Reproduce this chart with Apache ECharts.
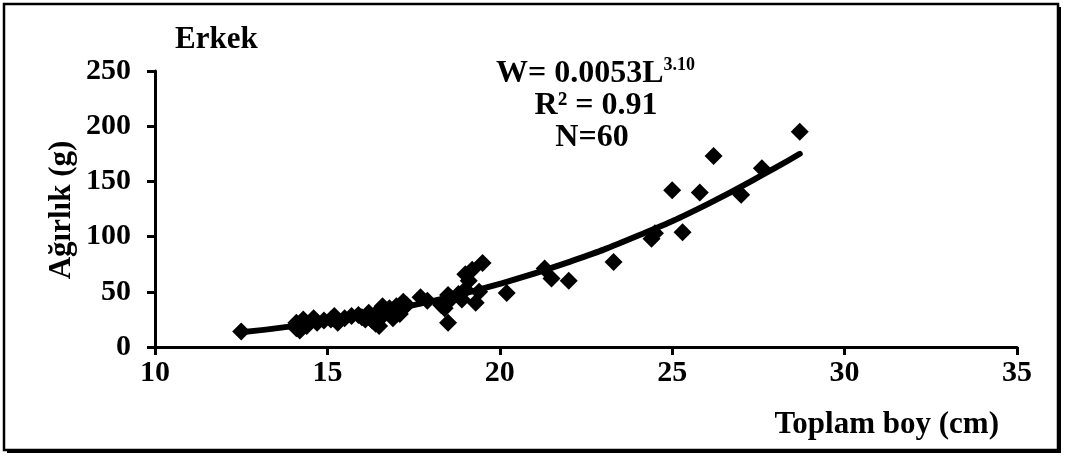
<!DOCTYPE html>
<html><head><meta charset="utf-8">
<script src="https://cdn.jsdelivr.net/npm/echarts@6/dist/echarts.min.js"></script>
<style>html,body{margin:0;padding:0;background:#fff}#c{width:1067px;height:459px}</style>
</head><body><div id="c"></div>
<script>
// Observed points: total length (cm) and weight (g)
const lengths = [12.5,14.1,14.1,14.2,14.3,14.4,14.6,14.7,15.1,15.2,15.3,14.9,
  15.5,15.7,15.9,16.0,16.2,16.3,16.4,16.5,16.5,16.6,16.6,16.8,16.9,17.0,17.1,17.2,17.3,16.1,
  17.7,17.9,18.3,18.5,18.5,18.6,18.8,18.9,19.0,19.1,19.2,19.3,19.5,19.4,18.4,19.0,
  20.2,21.3,21.5,22.0,23.3,24.4,24.5,25.0,25.3,25.8,26.2,27.0,27.6,28.7];
const weights = [14,17,22,15,25,19,26,22,25,28,22,24,
  26,28,29,27,31,24,21,19,33,37,28,35,26,37,30,41,38,25,
  45,42,38,22,47,44,48,43,66,60,70,40,76,50,35,52,
  49,71,62,60,77,98,103,142,104,140,173,138,162,195];
// Trend line (power fit)
const trendL = [12.5,14,16,18,20,22,24,26,28,28.7];
const trendW = [13.3,18.9,28.7,41.3,57.2,76.9,100.7,129.0,162.4,175];
const xTicks = [10,15,20,25,30,35];
const yTicks = [0,50,100,150,200,250];

const font = '"Liberation Serif","Times New Roman",serif';
const FS = 30;
const chart = echarts.init(document.getElementById('c'), null, {renderer:'canvas'});
chart.setOption({
  animation:false,
  backgroundColor:'#fff',
  grid:{left:155,right:50,top:71,bottom:112,containLabel:false},
  xAxis:{type:'value',min:xTicks[0],max:xTicks[xTicks.length-1],interval:5,
    axisLine:{onZero:false,lineStyle:{color:'#000',width:3}},
    axisTick:{show:true,inside:false,length:8,lineStyle:{color:'#000',width:3}},
    axisLabel:{color:'#000',fontFamily:font,fontWeight:'bold',fontSize:FS,margin:11},
    splitLine:{show:false}},
  yAxis:{type:'value',min:yTicks[0],max:yTicks[yTicks.length-1],interval:50,
    axisLine:{show:true,lineStyle:{color:'#000',width:3}},
    axisTick:{show:true,inside:false,length:8,lineStyle:{color:'#000',width:3}},
    axisLabel:{color:'#000',fontFamily:font,fontWeight:'bold',fontSize:FS,margin:24},
    splitLine:{show:false}},
  series:[
    {type:'scatter',data:lengths.map((l,i)=>[l,weights[i]]),symbol:'diamond',symbolSize:18,
     itemStyle:{color:'#000',opacity:1},z:3},
    {type:'line',data:trendL.map((l,i)=>[l,trendW[i]]),smooth:true,showSymbol:false,
     lineStyle:{color:'#000',width:6,cap:'round'},z:4}
  ],
  graphic:[
    {type:'rect',shape:{x:7,y:7,width:1054,height:446},style:{fill:'#000'},z:-11,silent:true},
    {type:'rect',shape:{x:4,y:4,width:1054,height:446},style:{fill:'#fff',stroke:'#000',lineWidth:2.5},z:-10,silent:true},
    {type:'text',x:175,y:40,style:{text:'Erkek',fontFamily:font,fontWeight:'bold',fontSize:31,fill:'#000',align:'left',verticalAlign:'middle'}},
    {type:'text',x:62,y:210,rotation:Math.PI/2,style:{text:'Ağırlık (g)',fontFamily:font,fontWeight:'bold',fontSize:31,fill:'#000',align:'center',verticalAlign:'middle'}},
    {type:'text',x:999,y:425,style:{text:'Toplam boy (cm)',fontFamily:font,fontWeight:'bold',fontSize:31,fill:'#000',align:'right',verticalAlign:'middle'}},
    {type:'text',x:496,y:73,style:{text:'{b|W= 0.0053L}{s|3.10}',align:'left',verticalAlign:'middle',
      rich:{b:{fontFamily:font,fontWeight:'bold',fontSize:32,fill:'#000',verticalAlign:'bottom'},
            s:{fontFamily:font,fontWeight:'bold',fontSize:18,fill:'#000',verticalAlign:'top',padding:[0,0,15,0]}}}},
    {type:'text',x:596,y:106,style:{text:'R² = 0.91',fontFamily:font,fontWeight:'bold',fontSize:32,fill:'#000',align:'center',verticalAlign:'middle'}},
    {type:'text',x:592,y:138,style:{text:'N=60',fontFamily:font,fontWeight:'bold',fontSize:32,fill:'#000',align:'center',verticalAlign:'middle'}}
  ]
});
</script></body></html>
